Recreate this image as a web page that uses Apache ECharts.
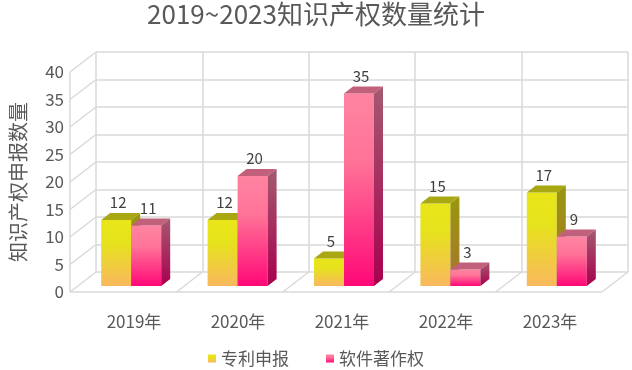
<!DOCTYPE html>
<html>
<head>
<meta charset="utf-8">
<script src="https://cdn.jsdelivr.net/npm/echarts@6/dist/echarts.min.js"></script>
<style>
html,body{margin:0;padding:0;background:#fff;}
#main{width:632px;height:370px;}
</style>
</head>
<body>
<div id="main"></div>
<script>
// ---- data ----
var categories = ['2019年', '2020年', '2021年', '2022年', '2023年'];
var patentValues = [12, 12, 5, 15, 17];
var softwareValues = [11, 20, 35, 3, 9];
var yTicks = [0, 5, 10, 15, 20, 25, 30, 35, 40];
var seriesNames = ['专利申报', '软件著作权'];
var titleText = '2019~2023知识产权数量统计';
var yAxisName = '知识产权申报数量';

// ---- styling constants ----
var FONT = '"Noto Sans CJK SC", "Noto Sans", sans-serif';
var TEXT = '#595959';
var LINE = '#D9D9D9';
var WALL_DX = 26, WALL_DY = 20;   // depth of the chart box (front offset)
var BAR_W = 30, BAR_DX = 9, BAR_DY = 7;

function lg(stops) {
  return new echarts.graphic.LinearGradient(0, 0, 0, 1, stops.map(function (s) { return { offset: s[0], color: s[1] }; }));
}
var palette = [
  {
    front: [[0, '#E8E619'], [0.35, '#E6E21C'], [1, '#F9B85E']],
    top: '#A9A812',
    side: [[0, '#98980E'], [1, '#A8742E']]
  },
  {
    front: [[0, '#FF84A2'], [0.35, '#FF7398'], [1, '#FF0877']],
    top: '#C0607A',
    side: [[0, '#A45A70'], [1, '#A8004E']]
  }
];

function barRenderer(idx) {
  var pal = palette[idx];
  return function (params, api) {
    var cat = api.value(0), val = api.value(1);
    var pt = api.coord([cat, val]);
    var pb = api.coord([cat, 0]);
    var x0 = pt[0] - BAR_W + idx * BAR_W;
    var ty = pt[1], by = pb[1];
    var x1 = x0 + BAR_W;
    return {
      type: 'group',
      children: [
        { type: 'rect', shape: { x: x0, y: ty, width: BAR_W, height: by - ty },
          style: { fill: lg(pal.front) } },
        { type: 'polygon', shape: { points: [[x0, ty], [x1, ty], [x1 + BAR_DX, ty - BAR_DY], [x0 + BAR_DX, ty - BAR_DY]] },
          style: { fill: pal.top } },
        { type: 'polygon', shape: { points: [[x1, ty], [x1 + BAR_DX, ty - BAR_DY], [x1 + BAR_DX, by - BAR_DY], [x1, by]] },
          style: { fill: lg(pal.side) } },
        { type: 'text', style: { text: String(val), x: x0 + BAR_W / 2 + 2, y: ty - BAR_DY - 3,
            textAlign: 'center', textVerticalAlign: 'bottom', fill: '#404040', font: '15px ' + FONT } }
      ]
    };
  };
}

function sideWallRenderer(params, api) {
  var cs = params.coordSys;
  var y = api.coord([0, api.value(1)])[1];
  return { type: 'line', shape: { x1: cs.x, y1: y, x2: cs.x - WALL_DX, y2: y + WALL_DY },
    style: { stroke: LINE, lineWidth: 1.5 } };
}

function floorRenderer(params, api) {
  var cs = params.coordSys;
  var k = params.dataIndex;
  var n = categories.length;
  var y0 = cs.y + cs.height;
  var children = [];
  var xb = cs.x + k * cs.width / n;
  if (k > 0) children.push({ type: 'line', shape: { x1: xb, y1: y0, x2: xb - WALL_DX, y2: y0 + WALL_DY }, style: { stroke: LINE, lineWidth: 1.5 } });
  if (k === n - 1) {
    var xr = cs.x + cs.width;
    children.push({ type: 'line', shape: { x1: xr, y1: y0, x2: xr - WALL_DX, y2: y0 + WALL_DY }, style: { stroke: LINE, lineWidth: 1.5 } });
  }
  if (k === 0) {
    children.push({ type: 'line', shape: { x1: cs.x - WALL_DX, y1: y0 + WALL_DY, x2: cs.x + cs.width - WALL_DX, y2: y0 + WALL_DY }, style: { stroke: LINE, lineWidth: 1.5 } });
    children.push({ type: 'line', shape: { x1: cs.x - WALL_DX, y1: cs.y + WALL_DY, x2: cs.x - WALL_DX, y2: y0 + WALL_DY }, style: { stroke: LINE, lineWidth: 1.5 } });
  }
  return { type: 'group', children: children };
}

var chart = echarts.init(document.getElementById('main'), null, { renderer: 'canvas' });
chart.setOption({
  backgroundColor: '#fff',
  animation: false,
  textStyle: { fontFamily: FONT },
  title: {
    text: titleText, left: 'center', top: -4,
    textStyle: { fontSize: 26, fontWeight: 'normal', color: TEXT, fontFamily: FONT }
  },
  legend: {
    data: seriesNames, left: 'center', top: 345, itemGap: 37, itemWidth: 8, itemHeight: 8, icon: 'rect',
    textStyle: { fontSize: 17, color: TEXT, fontFamily: FONT }
  },
  grid: [
    { left: 96, top: 52, width: 532, height: 220 },   // back wall
    { left: 70, top: 72, width: 532, height: 220 },   // front plane (labels)
    { left: 78, top: 66, width: 532, height: 220 }    // bar plane
  ],
  xAxis: [
    { gridIndex: 0, type: 'category', data: categories, axisLine: { show: false }, axisTick: { show: false }, axisLabel: { show: false },
      splitLine: { show: true, lineStyle: { color: LINE, width: 1.5 } } },
    { gridIndex: 1, type: 'category', data: categories, axisLine: { show: false }, axisTick: { show: false },
      axisLabel: { margin: 21, fontSize: 17, color: TEXT, fontFamily: FONT } },
    { gridIndex: 2, type: 'category', data: categories, show: false }
  ],
  yAxis: [
    { gridIndex: 0, type: 'value', min: 0, max: 40, interval: 5, axisLabel: { show: false }, axisLine: { show: false }, axisTick: { show: false },
      splitLine: { show: true, lineStyle: { color: LINE, width: 1.5 } } },
    { gridIndex: 1, type: 'value', min: 0, max: 40, interval: 5, axisLine: { show: false }, axisTick: { show: false }, splitLine: { show: false },
      axisLabel: { margin: 18, fontSize: 17, color: TEXT, fontFamily: FONT },
      name: yAxisName, nameLocation: 'middle', nameGap: 54, nameRotate: 90,
      nameTextStyle: { fontSize: 20, color: TEXT, fontFamily: FONT } },
    { gridIndex: 2, type: 'value', min: 0, max: 40, interval: 5, show: false }
  ],
  series: [
    { type: 'custom', xAxisIndex: 0, yAxisIndex: 0, silent: true, z: 1, clip: false,
      data: yTicks.map(function (v) { return [categories[0], v]; }), renderItem: sideWallRenderer },
    { type: 'custom', xAxisIndex: 0, yAxisIndex: 0, silent: true, z: 1, clip: false,
      data: categories.map(function (c) { return [c, 0]; }), renderItem: floorRenderer },
    { name: seriesNames[0], type: 'custom', xAxisIndex: 2, yAxisIndex: 2, z: 3, clip: false,
      itemStyle: { color: lg(palette[0].front) },
      data: categories.map(function (c, i) { return [c, patentValues[i]]; }), renderItem: barRenderer(0) },
    { name: seriesNames[1], type: 'custom', xAxisIndex: 2, yAxisIndex: 2, z: 4, clip: false,
      itemStyle: { color: lg(palette[1].front) },
      data: categories.map(function (c, i) { return [c, softwareValues[i]]; }), renderItem: barRenderer(1) }
  ]
});
</script>
</body>
</html>
